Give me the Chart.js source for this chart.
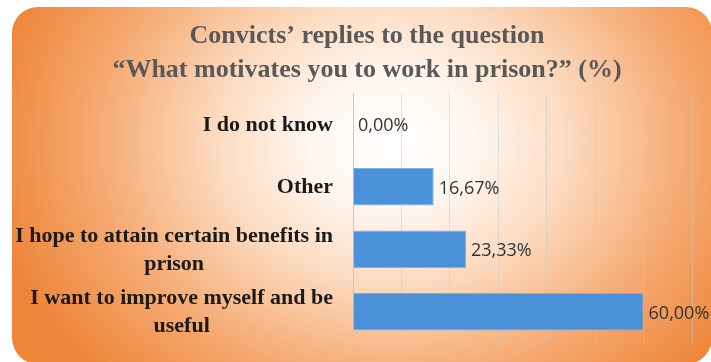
<!DOCTYPE html>
<html>
<head>
<meta charset="utf-8">
<script src="https://cdn.jsdelivr.net/npm/chart.js@4"></script>
<style>
    html, body { margin: 0; padding: 0; background: #ffffff; }
    #wrap { position: relative; width: 711px; height: 362px; overflow: hidden; }
    #card {
        position: absolute; left: 12px; top: 7px; width: 700px; height: 357px;
        border-radius: 26px;
        background: radial-gradient(ellipse 410px 330px at 380px 135px,
            #ffffff 0%, #fff7f1 20%, #fcd9bd 44%, #f5a86f 73%, #ee8539 100%);
    }
    #chart { position: absolute; left: 0; top: 0; }
</style>
</head>
<body>
<div id="wrap">
    <div id="card"></div>
    <canvas id="chart" width="711" height="362"></canvas>
</div>
<script>
const titleLines = ['Convicts\u2019 replies to the question', '\u201CWhat motivates you to work in prison?\u201D (%)'];
const categories = [
    ['I do not know'],
    ['Other'],
    ['I hope to attain certain benefits in', 'prison'],
    ['I want to improve myself and be', 'useful']
];
const values = [0, 16.67, 23.33, 60];
const valueLabels = ['0,00%', '16,67%', '23,33%', '60,00%'];

// title drawn by hand so it can sit centred on the card, not on the plot
const titlePlugin = {
    id: 'cardTitle',
    afterDraw(chart) {
        const ctx = chart.ctx;
        ctx.save();
        ctx.font = 'bold 26px "Liberation Serif"';
        ctx.fillStyle = '#595959';
        ctx.textAlign = 'center';
        ctx.textBaseline = 'middle';
        titleLines.forEach((t, i) => ctx.fillText(t, 367, 36 + i * 34));
        ctx.restore();
    }
};

// category labels: block right-aligned, lines centred inside the block
const catLabels = {
    id: 'catLabels',
    afterDraw(chart) {
        const ctx = chart.ctx;
        const yScale = chart.scales.y;
        const right = chart.chartArea.left - 20;
        const lh = 28;
        ctx.save();
        ctx.font = 'bold 22px "Liberation Serif"';
        ctx.fillStyle = '#1a1a1a';
        ctx.textAlign = 'center';
        ctx.textBaseline = 'middle';
        categories.forEach((lines, i) => {
            const w = Math.max(...lines.map(l => ctx.measureText(l).width));
            const cx = right - w / 2;
            const cy = yScale.getPixelForValue(i) + 1;
            lines.forEach((l, j) => {
                ctx.fillText(l, cx, cy + (j - (lines.length - 1) / 2) * lh);
            });
        });
        ctx.restore();
    }
};

const valueText = {
    id: 'valueText',
    afterDatasetsDraw(chart) {
        const ctx = chart.ctx;
        const meta = chart.getDatasetMeta(0);
        ctx.save();
        ctx.font = '18px "Open Sans"';
        ctx.fillStyle = '#333333';
        ctx.textAlign = 'left';
        ctx.textBaseline = 'middle';
        meta.data.forEach((bar, i) => {
            ctx.fillText(valueLabels[i], bar.x + 5, bar.y + 2);
        });
        ctx.restore();
    }
};

new Chart(document.getElementById('chart'), {
    type: 'bar',
    data: {
        labels: categories,
        datasets: [{
            data: values,
            backgroundColor: '#4a91da',
            borderColor: '#7ab0e7',
            borderWidth: 1,
            barPercentage: 0.6,
            categoryPercentage: 1
        }]
    },
    options: {
        indexAxis: 'y',
        responsive: false,
        animation: false,
        layout: {
            padding: { left: 0, right: 19, top: 93, bottom: 19 }
        },
        scales: {
            x: {
                min: 0,
                max: 70,
                ticks: { display: false, stepSize: 10 },
                grid: { color: 'rgba(200,200,200,0.5)', drawTicks: false },
                border: { display: false },
                afterFit: (s) => { s.height = 0; }
            },
            y: {
                ticks: { display: false },
                grid: { display: false, drawTicks: false },
                border: { color: '#c9c9c9' },
                afterFit: (s) => { s.width = 353; }
            }
        },
        plugins: {
            legend: { display: false },
            title: { display: false },
            tooltip: { enabled: false }
        }
    },
    plugins: [titlePlugin, catLabels, valueText]
});
</script>
</body>
</html>
